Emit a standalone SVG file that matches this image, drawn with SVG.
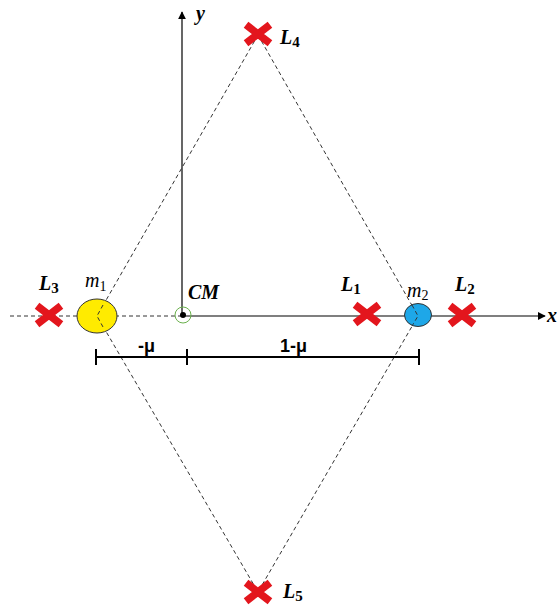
<svg xmlns="http://www.w3.org/2000/svg" width="557" height="608" viewBox="0 0 557 608">
<style>
.axis{stroke:#000;stroke-width:1.2;fill:none}
.dash{stroke:#333;stroke-width:1;stroke-dasharray:4 3;fill:none}
.dim{stroke:#000;stroke-width:2;fill:none}
.lbl{font-family:"Liberation Serif",serif;font-weight:bold;font-style:italic;font-size:20px;fill:#000}
.sub{font-style:normal;font-size:15px}
.m{font-family:"Liberation Serif",serif;font-style:italic;font-size:20px;fill:#000}
.msub{font-style:normal;font-size:14px}
.dimt{font-family:"Liberation Sans",sans-serif;font-weight:bold;font-size:18px;fill:#000}
</style>
<defs>
<marker id="arr" viewBox="0 0 10 10" refX="9" refY="5" markerWidth="8" markerHeight="8" markerUnits="userSpaceOnUse" orient="auto">
<path d="M0,0 L10,5 L0,10 z" fill="#000"/>
</marker>
<g id="x">
<path d="M-9,-7 L9,7 M9,-7 L-9,7" stroke="#e3161d" stroke-width="7.5" stroke-linecap="square"/>
</g>
</defs>
<rect width="557" height="608" fill="#fff"/>
<g id="connectors">
<line class="axis" x1="182" y1="316" x2="182" y2="12" marker-end="url(#arr)"/>
<line class="axis" x1="182" y1="316" x2="545" y2="316" marker-end="url(#arr)"/>
<line class="dash" x1="10" y1="316" x2="182" y2="316"/>
<polyline class="dash" points="258,35 97,316 258,592"/>
<polyline class="dash" points="258,35 418,316 258,592"/>
<line class="dim" x1="96" y1="357" x2="419" y2="357"/>
<line class="dim" x1="96" y1="349" x2="96" y2="365"/>
<line class="dim" x1="187" y1="349" x2="187" y2="365"/>
<line class="dim" x1="419" y1="349" x2="419" y2="365"/>
<text class="dimt" x="138" y="352">-μ</text>
<text class="dimt" x="280" y="352">1-μ</text>
<text class="lbl" x="547" y="322">x</text>
<text class="lbl" x="196" y="20">y</text>
</g>
<g id="m1">
<ellipse cx="97" cy="316" rx="20" ry="17" fill="#ffeb00" stroke="#333" stroke-width="1"/>
<polyline class="dash" points="103,305 97,316 103,327"/>
<text class="m" x="85" y="287">m<tspan class="msub" dy="4">1</tspan></text>
</g>
<g id="m2">
<ellipse cx="418" cy="315" rx="13.5" ry="11.5" fill="#1ea7e8" stroke="#333" stroke-width="1"/>
<polyline class="dash" points="412,305 418,316 412,326"/>
<text class="m" x="407" y="297">m<tspan class="msub" dy="3">2</tspan></text>
</g>
<g id="CM">
<circle cx="183" cy="315" r="8" fill="none" stroke="#6ab04c" stroke-width="1"/>
<circle cx="183" cy="315" r="3" fill="#000"/>
<text class="lbl" x="188" y="299">CM</text>
</g>
<g id="L1">
<use href="#x" x="367" y="314"/>
<text class="lbl" x="341" y="291">L<tspan class="sub" dy="3">1</tspan></text>
</g>
<g id="L2">
<use href="#x" x="462" y="315"/>
<text class="lbl" x="455" y="291">L<tspan class="sub" dy="3">2</tspan></text>
</g>
<g id="L3">
<use href="#x" x="49" y="315"/>
<text class="lbl" x="39" y="290">L<tspan class="sub" dy="3">3</tspan></text>
</g>
<g id="L4">
<use href="#x" x="258" y="34"/>
<text class="lbl" x="280" y="44">L<tspan class="sub" dy="3">4</tspan></text>
</g>
<g id="L5">
<use href="#x" x="258" y="592"/>
<text class="lbl" x="283" y="598">L<tspan class="sub" dy="3">5</tspan></text>
</g>
</svg>
